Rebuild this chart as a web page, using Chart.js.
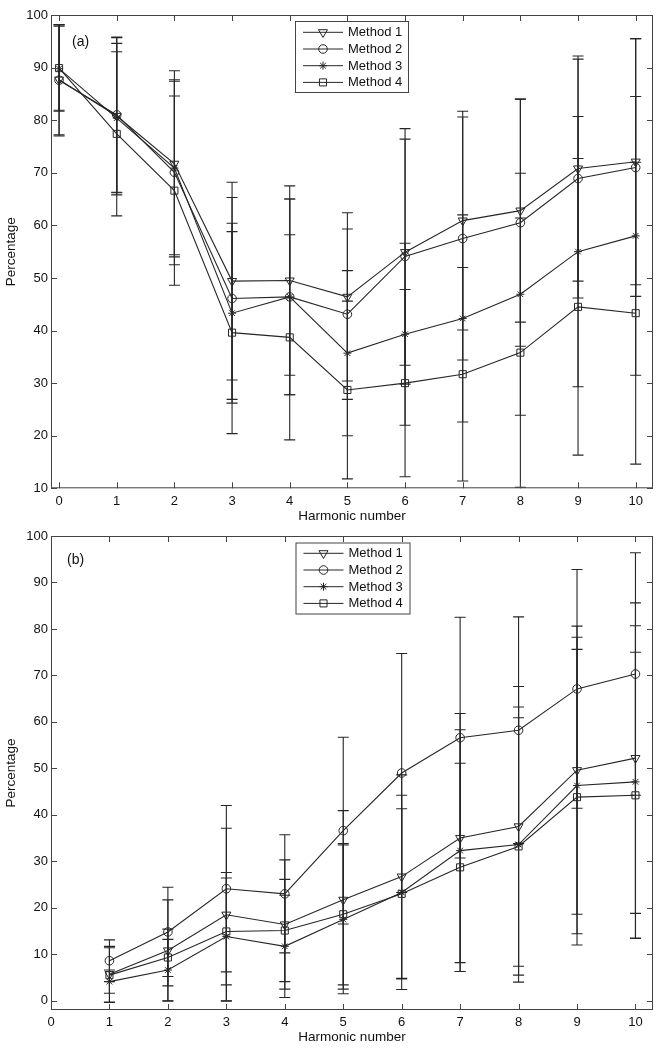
<!DOCTYPE html>
<html>
<head>
<meta charset="utf-8">
<script src="https://cdn.jsdelivr.net/npm/chart.js@4/dist/chart.umd.min.js"></script>
<style>
  body { margin: 0; background: #fff; }
  .panel { width: 660px; height: 525px; position: relative; }
  canvas { display: block; }
</style>
</head>
<body>
<div class="panel"><canvas id="chartA" width="660" height="525"></canvas></div>
<div class="panel"><canvas id="chartB" width="660" height="525"></canvas></div>
<script>
  // tick labels
  var xTicks = [0, 1, 2, 3, 4, 5, 6, 7, 8, 9, 10];
  var yTicksA = [10, 20, 30, 40, 50, 60, 70, 80, 90, 100];
  var yTicksB = [0, 10, 20, 30, 40, 50, 60, 70, 80, 90, 100];
  var methodNames = ['Method 1', 'Method 2', 'Method 3', 'Method 4'];

  // panel (a) - harmonic 0..10
  var harmonicA = [0, 1, 2, 3, 4, 5, 6, 7, 8, 9, 10];
  var m1A = [87.7, 80.8, 71.7, 49.4, 49.5, 46.4, 54.9, 60.9, 62.8, 70.8, 72.1];
  var m2A = [87.6, 81.0, 70.1, 46.1, 46.4, 43.1, 54.1, 57.5, 60.5, 68.9, 71.0];
  var m3A = [89.8, 80.4, 70.9, 43.3, 46.4, 35.7, 39.3, 42.3, 46.9, 55.0, 58.0];
  var m4A = [89.9, 77.4, 66.6, 39.6, 38.7, 28.7, 30.0, 31.7, 35.8, 44.5, 43.3];
  var e1A = [10.5, 15.0, 17.7, 18.8, 18.0, 16.0, 21.5, 20.8, 21.2, 21.4, 23.4];
  var e2A = [10.6, 14.7, 17.6, 19.2, 18.6, 16.2, 24.3, 23.1, 23.5, 22.7, 24.5];
  var e3A = [8.1, 14.2, 16.5, 17.1, 18.6, 15.7, 17.3, 19.7, 23.0, 25.7, 26.5];
  var e4A = [8.0, 15.6, 18.0, 19.2, 19.5, 16.9, 17.8, 20.3, 25.6, 28.2, 28.7];

  // panel (b) - harmonic 1..10
  var harmonicB = [1, 2, 3, 4, 5, 6, 7, 8, 9, 10];
  var m1B = [5.7, 10.8, 18.5, 16.4, 21.7, 26.7, 35.0, 37.5, 49.6, 52.2];
  var m2B = [8.6, 14.8, 24.1, 23.0, 36.6, 49.0, 56.6, 58.2, 67.1, 70.3];
  var m3B = [4.1, 6.6, 13.8, 11.7, 17.5, 23.3, 32.3, 33.6, 46.3, 47.1];
  var m4B = [5.5, 9.3, 14.9, 15.1, 18.6, 23.0, 28.7, 33.2, 43.8, 44.2];
  var e1B = [6.0, 10.9, 18.6, 13.9, 19.2, 21.9, 26.8, 30.1, 31.0, 33.4];
  var e2B = [4.5, 9.6, 17.9, 12.7, 20.1, 25.7, 25.9, 24.4, 25.7, 26.1];
  var e3B = [2.5, 6.6, 13.8, 11.0, 16.0, 20.9, 26.0, 29.6, 31.9, 33.6];
  var e4B = [5.9, 6.1, 11.5, 11.0, 15.2, 18.3, 22.4, 27.7, 31.8, 30.8];

  var ink = '#262626';
  var fontFamily = "'Liberation Sans', Arial, Helvetica, sans-serif";
  var markers = [
    { style: 'triangle', radius: 5.2, rotation: 180 },
    { style: 'circle', radius: 4.3, rotation: 0 },
    { style: 'star', radius: 4, rotation: 0 },
    { style: 'rect', radius: 5, rotation: 0 }
  ];

  function toPoints(xs, ys) {
    return xs.map(function (x, i) { return { x: x, y: ys[i] }; });
  }

  function makeDatasets(xs, series, errs) {
    return series.map(function (ys, k) {
      return {
        label: methodNames[k],
        data: toPoints(xs, ys),
        errors: errs[k],
        borderColor: ink,
        borderWidth: 1.1,
        pointStyle: markers[k].style,
        pointRadius: markers[k].radius,
        pointRotation: markers[k].rotation,
        pointBorderColor: ink,
        pointBackgroundColor: 'rgba(0,0,0,0)',
        pointBorderWidth: 1,
        tension: 0,
        fill: false
      };
    });
  }

  function drawMarker(ctx, m, x, y) {
    if (Chart.helpers && Chart.helpers.drawPoint) {
      Chart.helpers.drawPoint(ctx, { pointStyle: m.style, radius: m.radius, rotation: m.rotation, borderWidth: 1 }, x, y);
    }
  }

  // error bars, frame with inward ticks, panel label and legend box
  var extrasPlugin = {
    id: 'extras',
    beforeDatasetsDraw: function (chart) {
      var ctx = chart.ctx, xs = chart.scales.x, ys = chart.scales.y;
      ctx.save();
      ctx.strokeStyle = ink;
      ctx.lineWidth = 1.1;
      chart.data.datasets.forEach(function (ds) {
        ds.data.forEach(function (p, i) {
          var e = ds.errors[i];
          var px = xs.getPixelForValue(p.x);
          var top = ys.getPixelForValue(p.y + e);
          var bot = ys.getPixelForValue(p.y - e);
          ctx.beginPath();
          ctx.moveTo(px, top); ctx.lineTo(px, bot);
          ctx.moveTo(px - 5.5, top); ctx.lineTo(px + 5.5, top);
          ctx.moveTo(px - 5.5, bot); ctx.lineTo(px + 5.5, bot);
          ctx.stroke();
        });
      });
      ctx.restore();
    },
    afterDraw: function (chart, args, opts) {
      var ctx = chart.ctx, a = chart.chartArea;
      var xs = chart.scales.x, ys = chart.scales.y;
      ctx.save();
      ctx.strokeStyle = '#444';
      ctx.lineWidth = 1;
      ctx.strokeRect(a.left + 0.5, a.top + 0.5, a.right - a.left - 1, a.bottom - a.top - 1);
      ctx.beginPath();
      xTicks.forEach(function (v) {
        var px = Math.round(xs.getPixelForValue(v)) + 0.5;
        ctx.moveTo(px, a.bottom); ctx.lineTo(px, a.bottom - 6);
        ctx.moveTo(px, a.top); ctx.lineTo(px, a.top + 6);
      });
      opts.yTicks.forEach(function (v) {
        var py = Math.round(ys.getPixelForValue(v)) + 0.5;
        ctx.moveTo(a.left, py); ctx.lineTo(a.left + 6, py);
        ctx.moveTo(a.right, py); ctx.lineTo(a.right - 6, py);
      });
      ctx.stroke();

      // panel label
      ctx.fillStyle = '#111';
      ctx.font = '14px ' + fontFamily;
      ctx.textAlign = 'left';
      ctx.textBaseline = 'middle';
      ctx.fillText(opts.tag, opts.tagX, opts.tagY);

      // legend
      var L = opts.legend;
      ctx.fillStyle = '#fff';
      ctx.fillRect(L.x, L.y, L.w, L.h);
      ctx.strokeStyle = '#444';
      ctx.strokeRect(L.x + 0.5, L.y + 0.5, L.w, L.h);
      ctx.font = '13px ' + fontFamily;
      chart.data.datasets.forEach(function (ds, k) {
        var ry = L.y + L.first + k * L.step;
        ctx.strokeStyle = ink;
        ctx.beginPath();
        ctx.moveTo(L.x + 8, ry); ctx.lineTo(L.x + 48, ry);
        ctx.stroke();
        ctx.fillStyle = 'rgba(0,0,0,0)';
        drawMarker(ctx, markers[k], L.x + 28, ry);
        ctx.fillStyle = '#111';
        ctx.fillText(ds.label, L.x + 53, ry + 0.5);
      });
      ctx.restore();
    }
  };

  function makePanel(id, xs, series, errs, cfg) {
    return new Chart(document.getElementById(id), {
      type: 'line',
      data: { datasets: makeDatasets(xs, series, errs) },
      plugins: [extrasPlugin],
      options: {
        responsive: false,
        animation: false,
        layout: { padding: { top: cfg.top, right: 7, left: 0, bottom: 0 } },
        plugins: {
          legend: { display: false },
          tooltip: { enabled: false },
          extras: { yTicks: cfg.yTicks, tag: cfg.tag, tagX: cfg.tagX, tagY: cfg.tagY, legend: cfg.legend }
        },
        scales: {
          x: {
            type: 'linear',
            min: cfg.xMin,
            max: 10.3,
            grid: { display: false, drawTicks: false },
            border: { display: false },
            afterBuildTicks: function (s) { s.ticks = xTicks.map(function (v) { return { value: v }; }); },
            afterFit: function (s) { s.height = cfg.xHeight; },
            ticks: { padding: 5, color: '#111', font: { family: fontFamily, size: 13 }, maxRotation: 0 },
            title: { display: true, text: 'Harmonic number', color: '#111', font: { family: fontFamily, size: 13.5 }, padding: { top: 0, bottom: cfg.titlePad } }
          },
          y: {
            min: cfg.yMin,
            max: 100,
            grid: { display: false, drawTicks: false },
            border: { display: false },
            afterBuildTicks: function (s) { s.ticks = cfg.yTicks.map(function (v) { return { value: v }; }); },
            afterFit: function (s) { s.width = 51; },
            ticks: { padding: 3, color: '#111', font: { family: fontFamily, size: 13 } },
            title: { display: true, text: 'Percentage', color: '#111', font: { family: fontFamily, size: 13.5 }, padding: { top: 3, bottom: 0 } }
          }
        }
      }
    });
  }

  makePanel('chartA', harmonicA, [m1A, m2A, m3A, m4A], [e1A, e2A, e3A, e4A], {
    top: 15, xMin: -0.14, yMin: 10, yTicks: yTicksA, xHeight: 36.7, titlePad: 0.5,
    tag: '(a)', tagX: 72, tagY: 42.5,
    legend: { x: 295, y: 21, w: 113, h: 71, first: 11.3, step: 16.7 }
  });

  makePanel('chartB', harmonicB, [m1B, m2B, m3B, m4B], [e1B, e2B, e3B, e4B], {
    top: 11, xMin: 0, yMin: -2, yTicks: yTicksB, xHeight: 40, titlePad: 4.5,
    tag: '(b)', tagX: 67, tagY: 35,
    legend: { x: 295.5, y: 17.5, w: 114, h: 71, first: 10.8, step: 16.7 }
  });
</script>
</body>
</html>
